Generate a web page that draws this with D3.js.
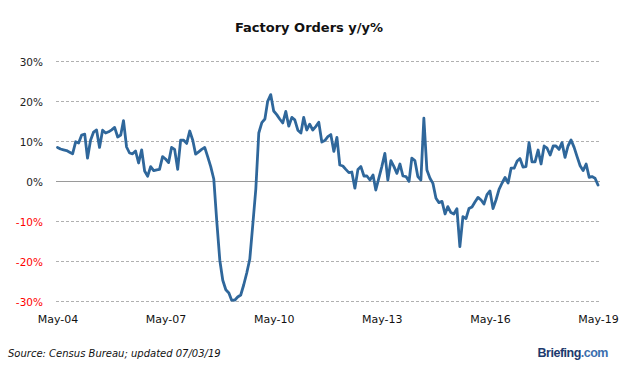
<!DOCTYPE html>
<html>
<head>
<meta charset="utf-8">
<script src="https://cdn.jsdelivr.net/npm/d3@7"></script>
<style>
  body { margin: 0; background: #fff; }
  svg { display: block; }
</style>
</head>
<body>
<script>
// chart size
var svgWidth = 626;
var svgHeight = 367;

// first month of the series and y/y % values, one per month (May-04 .. May-19)
var startMonth = "2004-05";
var orders = [
  8.4, 8.0, 7.8, 7.6, 7.2, 6.8, 9.8, 9.5, 11.5, 11.7,
  5.7, 10.2, 12.2, 12.75, 8.4, 12.7, 12.0, 12.3, 12.8, 13.4,
  11.0, 11.5, 15.1, 8.5, 7.0, 6.8, 7.5, 4.5, 7.8, 2.5,
  1.2, 3.6, 2.6, 2.8, 2.9, 6.1, 5.5, 4.6, 8.4, 7.9,
  2.9, 10.2, 10.2, 9.4, 12.5, 10.2, 6.7, 7.3, 7.9, 8.4,
  6.1, 3.6, 0.5, -10, -19.8, -24.8, -27.2, -28, -29.8, -29.8,
  -29, -28.5, -26, -23, -19.5, -11, -2, 12, 14.6, 15.5,
  19.9, 21.6, 17.5, 16.6, 15.5, 14.5, 17.4, 13.7, 15.9, 15.3,
  12.7, 12.0, 15.9, 12.75, 14.2, 12.75, 13.6, 14.7, 9.75, 10.1,
  11.1, 11.6, 7.4, 10.9, 4.0, 3.75, 2.9, 2.1, 2.25, -1.8,
  2.9, 3.6, 1.25, 1.25, 0.25, 1.5, -2.25, 0.7, 3.6, 6.9,
  0.25, 5.1, 3.6, 1.9, 4.25, 1.25, 1.1, -0.1, 5.7, 5.1,
  1.1, 0.25, 15.7, 2.75, 0.7, -0.6, -4.3, -5.4, -5.1, -8.25,
  -6.4, -7.9, -8.25, -6.9, -16.4, -8.9, -9.4, -6.9, -6.5, -5.25,
  -4.1, -4.75, -5.75, -3.4, -2.5, -6.9, -4.75, -2.1, -0.5, 0.9,
  -0.5, 3.2, 3.2, 5.0, 5.6, 3.5, 3.6, 9.6, 4.8, 4.8,
  7.75, 4.25, 8.75, 8.2, 6.5, 8.75, 8.75, 7.9, 9.6, 5.9,
  8.75, 10.25, 8.4, 6.1, 3.8, 2.6, 4.25, 0.9, 1.1, 0.7,
  -1.0
];

// axis ticks
var yTicks = [30, 20, 10, 0, -10, -20, -30];
var xTickLabels = ["May-04", "May-07", "May-10", "May-13", "May-16", "May-19"];

var parseMonth = d3.timeParse("%Y-%m");
var fmtMonth = d3.timeFormat("%b-%y");
var t0 = parseMonth(startMonth);

var data = orders.map(function(v, i) {
  return { date: d3.timeMonth.offset(t0, i), value: v };
});

var svg = d3.select("body")
  .append("svg")
  .attr("width", svgWidth)
  .attr("height", svgHeight);

var xScale = d3.scaleTime()
  .domain(d3.extent(data, d => d.date))
  .range([57.5, 598]);

var yScale = d3.scaleLinear()
  .domain([-30, 30])
  .range([301, 61]);

// title
svg.append("text")
  .attr("x", 309)
  .attr("y", 32)
  .attr("text-anchor", "middle")
  .attr("font-family", "DejaVu Sans, sans-serif")
  .attr("font-weight", "bold")
  .attr("font-size", "13px")
  .attr("fill", "#111")
  .text("Factory Orders y/y%");

// grid lines
svg.append("g")
  .selectAll("line")
  .data(yTicks)
  .enter()
  .append("line")
  .attr("x1", 56)
  .attr("x2", 600)
  .attr("y1", d => yScale(d) + 0.5)
  .attr("y2", d => yScale(d) + 0.5)
  .attr("stroke", d => d === 0 ? "#9a9a9a" : "#b0b0b0")
  .attr("stroke-width", 1)
  .attr("stroke-dasharray", d => d === 0 ? null : "3,2");

// y axis labels
var leftAxis = d3.axisLeft(yScale)
  .tickValues(yTicks)
  .tickSize(0)
  .tickPadding(0)
  .tickFormat(d => d + "%");

var yAxisG = svg.append("g")
  .attr("transform", "translate(43,0)")
  .call(leftAxis);
yAxisG.select(".domain").remove();
yAxisG.selectAll("text")
  .attr("font-family", "DejaVu Sans, sans-serif")
  .attr("font-size", "10.5px")
  .attr("dy", "0.4em")
  .attr("fill", d => d < 0 ? "#ff0000" : "#222");

// x axis labels
var bottomAxis = d3.axisBottom(xScale)
  .tickValues(xTickLabels.map(s => d3.timeParse("%b-%y")(s)))
  .tickSize(0)
  .tickPadding(0)
  .tickFormat(fmtMonth);

var xAxisG = svg.append("g")
  .attr("transform", "translate(0,315)")
  .call(bottomAxis);
xAxisG.select(".domain").remove();
xAxisG.selectAll("text")
  .attr("font-family", "DejaVu Sans, sans-serif")
  .attr("font-size", "11px")
  .attr("fill", "#111");

// the series line
var line = d3.line()
  .x(d => xScale(d.date))
  .y(d => yScale(d.value));

svg.append("path")
  .datum(data)
  .attr("d", line)
  .attr("fill", "none")
  .attr("stroke", "#2f679b")
  .attr("stroke-width", 2.8)
  .attr("stroke-linejoin", "round")
  .attr("stroke-linecap", "round");

// footer
svg.append("text")
  .attr("x", 8)
  .attr("y", 357)
  .attr("font-family", "DejaVu Sans, sans-serif")
  .attr("font-style", "italic")
  .attr("font-size", "10px")
  .attr("fill", "#111")
  .text("Source: Census Bureau; updated 07/03/19");

var logo = svg.append("text")
  .attr("x", 608)
  .attr("y", 357)
  .attr("text-anchor", "end")
  .attr("font-family", "Liberation Sans, Arial, sans-serif")
  .attr("font-weight", "bold")
  .attr("font-size", "12.5px")
  .attr("letter-spacing", "-0.5px");
logo.append("tspan").attr("fill", "#1c3a6e").text("Briefing");
logo.append("tspan").attr("fill", "#3c6fae").text(".com");
</script>
</body>
</html>
